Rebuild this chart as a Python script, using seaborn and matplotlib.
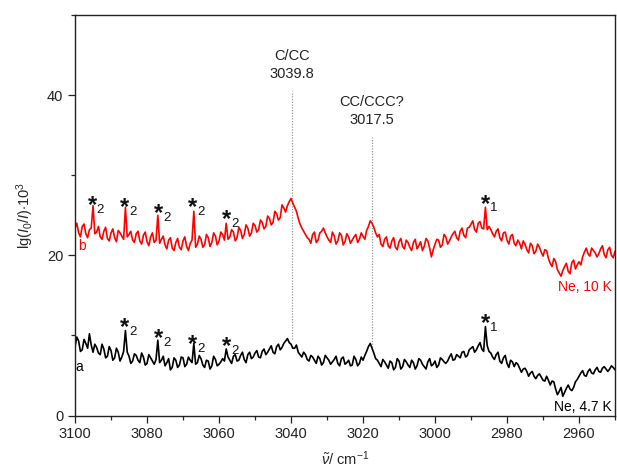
import numpy as np
import pandas as pd
import matplotlib
matplotlib.use("Agg")
import matplotlib.pyplot as plt
from matplotlib.ticker import MultipleLocator
import seaborn as sns

# ---------------- data ----------------
wavenumber = list(range(3100, 2949, -1))            # 3100 ... 2950 cm-1
wavenumber_mid = [w - 0.5 for w in wavenumber[:-1]]  # 3099.5 ... 2950.5 cm-1

# trace b (Ne, 10 K), at integer wavenumbers
trace_b_10K = [
    23.4, 22.8, 23.6, 22.7, 23.2, 26.2, 22.9, 22.3, 23.0, 22.1,
    22.8, 22.2, 23.1, 22.4, 26.0, 22.6, 21.9, 22.7, 21.8, 22.5,
    21.7, 22.3, 21.6, 25.0, 22.0, 21.3, 21.9, 20.9, 21.6, 21.0,
    21.8, 21.1, 21.5, 25.5, 21.4, 22.0, 21.3, 22.2, 21.6, 22.4,
    21.8, 22.6, 24.0, 22.3, 22.9, 22.2, 23.1, 22.6, 23.4, 22.8,
    23.7, 23.2, 24.1, 23.6, 24.6, 24.1, 25.2, 24.7, 25.9, 26.2,
    27.1, 26.0, 24.6, 23.4, 22.6, 22.0, 22.6, 21.6, 22.8, 23.4,
    22.3, 21.6, 22.4, 21.8, 22.5, 21.7, 22.3, 21.9, 22.6, 22.0,
    22.4, 23.1, 24.3, 23.5, 22.3, 21.4, 22.0, 21.2, 21.8, 21.0,
    21.7, 21.1, 21.9, 21.0, 21.6, 20.8, 21.7, 21.1, 21.8, 19.8,
    21.4, 21.9, 21.3, 22.3, 21.8, 22.7, 22.2, 23.0, 22.5, 23.4,
    23.9, 23.2, 24.0, 23.4, 26.0, 23.6, 22.7, 23.0, 22.2, 22.8,
    21.9, 22.4, 21.5, 21.9, 20.8, 21.4, 20.3, 21.2, 20.5, 21.0,
    19.9, 20.6, 19.0, 19.6, 18.2, 17.4, 18.6, 18.0, 19.1, 18.3,
    19.2, 19.8, 20.9, 19.9, 20.6, 19.8, 20.8, 20.1, 20.7, 20.0,
    20.5,
]
# trace b at half-integer wavenumbers
trace_b_10K_mid = [
    24.0, 22.3, 23.9, 22.2, 23.4, 22.7, 23.6, 22.0, 23.5, 21.8,
    23.3, 21.7, 22.8, 22.0, 22.3, 23.0, 21.6, 23.0, 21.4, 22.9,
    21.2, 22.8, 21.9, 21.5, 22.4, 20.8, 22.2, 20.6, 22.1, 20.7,
    22.3, 20.6, 21.9, 21.0, 22.4, 21.0, 22.6, 21.1, 22.8, 21.3,
    22.9, 21.9, 22.0, 23.2, 21.8, 23.5, 22.1, 23.8, 22.4, 24.0,
    22.9, 24.4, 23.3, 24.9, 23.8, 25.5, 24.4, 26.3, 25.4, 26.7,
    26.5, 25.5, 23.9, 23.0, 22.2, 21.5, 22.9, 21.9, 23.0, 22.8,
    21.9, 22.9, 21.4, 22.8, 21.3, 22.7, 21.5, 22.3, 21.6, 22.8,
    22.0, 23.6, 24.0, 22.8, 22.6, 21.1, 22.3, 20.9, 22.2, 20.7,
    22.1, 20.8, 21.6, 20.6, 22.0, 21.2, 20.6, 22.1, 20.9, 20.7,
    22.0, 21.0, 22.6, 21.4, 22.3, 23.0, 21.9, 23.4, 22.2, 23.5,
    24.3, 22.9, 24.2, 23.3, 23.2, 23.2, 22.3, 23.3, 21.8, 22.9,
    21.4, 22.6, 21.2, 21.5, 21.8, 20.7, 21.5, 20.2, 21.4, 20.4,
    20.7, 19.6, 18.6, 19.2, 17.8, 18.1, 19.0, 17.7, 19.4, 18.8,
    18.8, 20.4, 20.2, 20.9, 20.3, 20.2, 21.2, 19.7, 21.0, 19.7,
]

# trace a (Ne, 4.7 K), at integer wavenumbers
trace_a_4K = [
    8.6, 9.3, 8.2, 9.0, 10.2, 7.9, 8.5, 7.6, 8.3, 7.4,
    8.1, 7.2, 7.9, 7.3, 10.6, 7.4, 6.8, 7.5, 6.6, 7.3,
    6.5, 7.2, 6.4, 9.4, 6.9, 6.2, 7.1, 6.0, 6.9, 6.3,
    7.2, 6.4, 6.9, 9.0, 6.6, 7.1, 6.0, 6.8, 6.2, 7.0,
    6.4, 7.1, 8.3, 6.9, 7.4, 6.8, 7.5, 7.0, 7.6, 7.1,
    7.8, 7.3, 8.0, 7.6, 8.3, 7.9, 8.6, 8.2, 9.0, 9.6,
    8.9, 8.4, 7.9, 7.3, 7.6, 6.8, 7.3, 6.5, 7.1, 6.6,
    7.2, 6.4, 7.0, 6.5, 7.1, 6.4, 6.9, 6.3, 7.0, 6.5,
    6.9, 8.0, 9.0, 7.8, 6.9, 6.1, 6.7, 5.9, 6.6, 6.0,
    6.8, 6.1, 6.7, 6.0, 6.6, 6.2, 6.9, 6.1, 6.7, 6.2,
    6.8, 6.3, 7.0, 6.5, 7.3, 6.9, 7.6, 7.2, 8.0, 7.5,
    8.4, 7.9, 8.7, 8.3, 11.1, 8.0, 7.3, 7.6, 6.8, 7.2,
    6.5, 6.9, 6.1, 6.4, 5.4, 5.9, 4.9, 5.5, 4.6, 5.2,
    4.4, 4.9, 3.8, 4.2, 2.6, 3.5, 2.9, 3.8, 3.1, 4.2,
    4.9, 5.6, 4.9, 5.8, 5.2, 6.0, 5.4, 6.1, 5.5, 6.2,
    5.7,
]
# trace a at half-integer wavenumbers
trace_a_4K_mid = [
    9.8, 8.0, 9.5, 8.4, 8.8, 8.9, 7.8, 8.9, 7.2, 8.6,
    6.9, 8.4, 6.8, 8.0, 7.9, 6.5, 7.7, 6.9, 7.8, 6.3,
    7.6, 6.8, 7.0, 6.6, 7.4, 6.6, 5.7, 7.2, 6.0, 7.3,
    6.1, 7.3, 6.6, 6.4, 7.5, 6.3, 6.9, 5.8, 7.4, 6.2,
    6.7, 6.8, 7.3, 6.5, 7.6, 6.9, 7.9, 6.6, 7.9, 7.3,
    8.1, 7.2, 8.3, 7.9, 8.7, 7.7, 8.9, 8.5, 9.3, 9.1,
    8.4, 8.8, 7.6, 7.9, 7.0, 7.5, 6.9, 7.4, 6.3, 7.5,
    6.9, 6.7, 7.4, 6.2, 7.3, 6.6, 6.2, 7.4, 6.2, 7.3,
    7.5, 8.6, 8.4, 7.1, 6.5, 7.0, 6.3, 6.8, 5.7, 7.1,
    5.8, 7.0, 6.3, 6.9, 5.8, 7.1, 6.4, 5.8, 7.1, 6.4,
    6.0, 7.2, 6.7, 6.8, 7.7, 7.0, 7.4, 7.9, 7.3, 8.2,
    8.6, 8.2, 9.1, 8.0, 8.7, 7.8, 7.0, 7.9, 6.5, 7.5,
    6.0, 6.7, 6.6, 5.9, 5.8, 5.5, 5.3, 4.9, 5.0, 4.8,
    4.3, 4.4, 4.3, 3.3, 3.0, 2.4, 3.4, 3.3, 3.5, 4.5,
    5.3, 5.0, 5.5, 5.3, 5.7, 5.5, 5.9, 5.8, 5.8, 6.0,
]

# band assignments (dotted lines)
assign_wn = [3039.8, 3017.5]
assign_species = ["C/CC", "CC/CCC?"]
assign_line_top = [40.5, 34.8]
assign_line_bottom = [9.5, 8.5]

# starred impurity bands: (wavenumber, label-height, subscript)
star_b_wn = [3095.2, 3086.2, 3076.7, 3067.3, 3057.8, 2985.9]
star_b_y = [26.8, 26.6, 25.8, 26.6, 25.1, 27.0]
star_b_sub = ["2", "2", "2", "2", "2", "1"]
star_a_wn = [3086.2, 3076.7, 3067.3, 3057.8, 2985.9]
star_a_y = [11.6, 10.2, 9.4, 9.2, 12.1]
star_a_sub = ["2", "2", "2", "2", "1"]


def interleave(main, mid):
    out = []
    for a, b in zip(main[:-1], mid):
        out.extend([a, b])
    out.append(main[-1])
    return out


wn_full = interleave(wavenumber, wavenumber_mid)
df = pd.concat([
    pd.DataFrame({"wn": wn_full, "absorb": interleave(trace_b_10K, trace_b_10K_mid), "trace": "b"}),
    pd.DataFrame({"wn": wn_full, "absorb": interleave(trace_a_4K, trace_a_4K_mid), "trace": "a"}),
])

# ---------------- style ----------------
sns.set_theme(style="ticks")
plt.rcParams["font.family"] = ["Liberation Sans", "DejaVu Sans"]
plt.rcParams["mathtext.fontset"] = "custom"
plt.rcParams["mathtext.rm"] = "Liberation Sans"
plt.rcParams["mathtext.it"] = "Liberation Sans:italic"
plt.rcParams["mathtext.bf"] = "Liberation Sans:bold"

fig = plt.figure(figsize=(6.17, 4.72), dpi=100)
ax = fig.add_axes([0.1216, 0.1197, 0.8752, 0.8485])

sns.lineplot(data=df, x="wn", y="absorb", hue="trace",
             palette={"b": "#ff0000", "a": "#000000"},
             estimator=None, sort=False, linewidth=1.2, legend=False, ax=ax)

for wn, top, bot, sp in zip(assign_wn, assign_line_top, assign_line_bottom, assign_species):
    ax.plot([wn, wn], [bot, top], color="#9a9a9a", linestyle=(0, (1, 1.2)), linewidth=0.9, zorder=1)
    ax.text(wn, top + 1.2, f"{wn:.1f}", ha="center", va="bottom", fontsize=10.5, color="#222222")
    ax.text(wn, top + 3.5, sp, ha="center", va="bottom", fontsize=10.5, color="#222222")


def star(wn, y, sub):
    ax.text(wn, y, "*", ha="center", va="center", fontsize=17, fontweight="bold", color="#111111")
    ax.text(wn - 2.2, y - 0.55, sub, ha="center", va="center", fontsize=9.5, color="#111111")


for wn, y, s in zip(star_b_wn, star_b_y, star_b_sub):
    star(wn, y - 0.6, s)
for wn, y, s in zip(star_a_wn, star_a_y, star_a_sub):
    star(wn, y - 0.6, s)

ax.text(3098.1, 21.2, "b", color="#ff0000", fontsize=10, ha="center", va="center")
ax.text(3098.9, 6.0, "a", color="#000000", fontsize=10, ha="center", va="center")
ax.text(2951.0, 16.0, "Ne, 10 K", color="#ff0000", fontsize=10, ha="right", va="center")
ax.text(2951.0, 1.1, "Ne, 4.7 K", color="#000000", fontsize=10, ha="right", va="center")

ax.set_xlim(3100, 2950)
ax.set_ylim(0, 50)
ax.xaxis.set_major_locator(MultipleLocator(20))
ax.xaxis.set_minor_locator(MultipleLocator(10))
ax.yaxis.set_major_locator(MultipleLocator(20))
ax.yaxis.set_minor_locator(MultipleLocator(10))
ax.tick_params(which="major", direction="out", length=5, width=0.9, labelsize=10.5, colors="#222222")
ax.tick_params(which="minor", direction="out", length=3, width=0.9)
for sp in ax.spines.values():
    sp.set_linewidth(1.0)
    sp.set_color("#222222")

ax.set_xlabel(r"$\tilde{\nu}$/ cm$^{-1}$", fontsize=10.5, labelpad=6)
ax.set_ylabel(r"lg($I_0$/$I$)$\cdot$10$^3$", fontsize=10.5, labelpad=8)

fig.savefig("out.png", dpi=100)
